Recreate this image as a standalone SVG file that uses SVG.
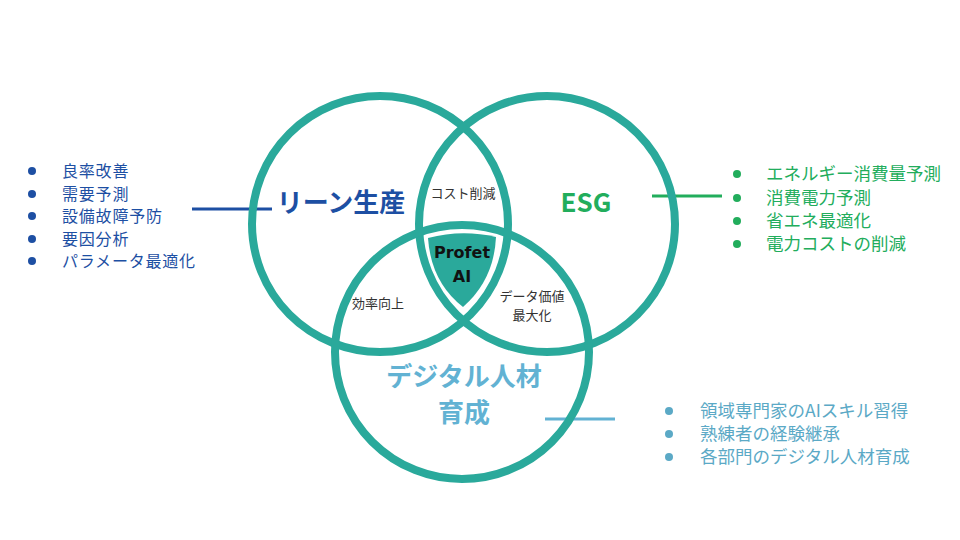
<svg xmlns="http://www.w3.org/2000/svg" width="960" height="540" viewBox="0 0 960 540">
<style>
text{font-family:"Noto Sans CJK JP","Noto Sans",sans-serif}
.ring{fill:none;stroke:#2aa99b;stroke-width:8}
.title{font-weight:bold;font-size:26px;text-anchor:middle}
.small{font-size:13px;fill:#333;text-anchor:middle}
.li{font-size:16px;letter-spacing:0.8px}
.li18{font-size:17.5px}
.blue{fill:#1d4fa3}
.green{fill:#22ad5c}
.lblue{fill:#62b2d3}
.lbl2{fill:#5ba9c6}
text.pa{font-family:"DejaVu Sans",sans-serif;font-size:16px;font-weight:bold;fill:#111;text-anchor:middle}
</style>
<rect width="960" height="540" fill="#fff"/>
<g id="connectors">
<line x1="192" y1="209" x2="272" y2="209" stroke="#1d4fa3" stroke-width="3"/>
<line x1="652" y1="196" x2="722" y2="196" stroke="#22ad5c" stroke-width="3"/>
<line x1="545" y1="419" x2="615" y2="419" stroke="#62b2d3" stroke-width="3"/>
</g>
<g id="lean">
<circle class="ring" cx="380" cy="224" r="128"/>
<text class="title blue" x="341" y="212">リーン生産</text>
</g>
<g id="esg">
<circle class="ring" cx="547" cy="224" r="128"/>
<text class="title green" x="586" y="212">ESG</text>
</g>
<g id="digital">
<circle class="ring" cx="462" cy="352" r="127"/>
<text class="title lblue" x="464" y="386">デジタル人材</text>
<text class="title lblue" x="464" y="422">育成</text>
</g>
<g id="overlaps">
<text class="small" x="463" y="198">コスト削減</text>
<text class="small" x="378" y="308">効率向上</text>
<text class="small" x="532" y="301">データ価値</text>
<text class="small" x="532" y="320">最大化</text>
</g>
<g id="profet">
<path d="M428,238 Q462,229 496,237 Q494,280 463,307 Q431,282 428,238 Z" fill="#2aa99b"/>
<text class="pa" x="462" y="258">Profet</text>
<text class="pa" x="462" y="282">AI</text>
</g>
<g id="lean-list" class="blue">
<circle cx="32" cy="171" r="4"/><text class="li" x="62" y="177">良率改善</text>
<circle cx="32" cy="194" r="4"/><text class="li" x="62" y="200">需要予測</text>
<circle cx="32" cy="216" r="4"/><text class="li" x="62" y="222">設備故障予防</text>
<circle cx="32" cy="239" r="4"/><text class="li" x="62" y="245">要因分析</text>
<circle cx="32" cy="261" r="4"/><text class="li" x="62" y="267">パラメータ最適化</text>
</g>
<g id="esg-list" class="green">
<circle cx="737" cy="174" r="4"/><text class="li18" x="766" y="180">エネルギー消費量予測</text>
<circle cx="737" cy="198" r="4"/><text class="li18" x="766" y="204">消費電力予測</text>
<circle cx="737" cy="221" r="4"/><text class="li18" x="766" y="227">省エネ最適化</text>
<circle cx="737" cy="244" r="4"/><text class="li18" x="766" y="250">電力コストの削減</text>
</g>
<g id="digital-list" class="lbl2">
<circle cx="669" cy="411" r="4"/><text class="li18" x="700" y="417">領域専門家のAIスキル習得</text>
<circle cx="669" cy="434" r="4"/><text class="li18" x="700" y="440">熟練者の経験継承</text>
<circle cx="669" cy="457" r="4"/><text class="li18" x="700" y="463">各部門のデジタル人材育成</text>
</g>
</svg>
